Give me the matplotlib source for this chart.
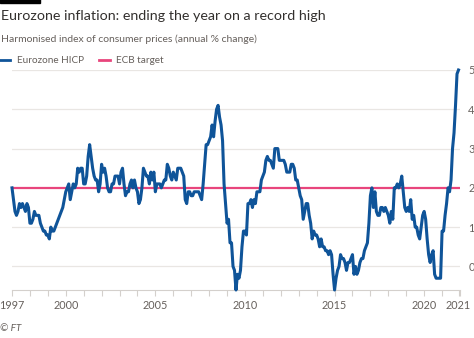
import numpy as np
import matplotlib.pyplot as plt
from matplotlib.patches import Rectangle

# Eurozone HICP, annual % change, monthly Jan 1997 - Dec 2021
hicp_1997_2004 = [
    2.0, 1.7, 1.4, 1.3, 1.4, 1.6, 1.5, 1.6, 1.5, 1.4, 1.6, 1.5,
    1.1, 1.1, 1.2, 1.4, 1.3, 1.3, 1.3, 1.1, 1.0, 0.9, 0.9, 0.8,
    0.8, 0.7, 1.0, 0.9, 0.9, 1.0, 1.1, 1.2, 1.3, 1.4, 1.5, 1.7,
    1.9, 2.0, 2.1, 1.7, 1.9, 2.1, 2.0, 2.1, 2.5, 2.4, 2.5, 2.5,
    2.1, 2.1, 2.3, 2.8, 3.1, 2.8, 2.5, 2.3, 2.2, 2.2, 1.9, 2.1,
    2.6, 2.4, 2.5, 2.3, 2.0, 1.9, 1.9, 2.1, 2.1, 2.3, 2.3, 2.3,
    2.1, 2.4, 2.5, 2.1, 1.8, 1.9, 1.9, 2.1, 2.2, 2.0, 2.2, 2.0,
    1.9, 1.6, 1.7, 2.0, 2.5, 2.4, 2.3, 2.3, 2.1, 2.4, 2.2, 2.4,
]
hicp_2005_2012 = [
    1.9, 2.1, 2.1, 2.1, 2.0, 2.1, 2.2, 2.2, 2.6, 2.5, 2.3, 2.2,
    2.4, 2.3, 2.2, 2.5, 2.5, 2.5, 2.4, 2.3, 1.7, 1.6, 1.9, 1.9,
    1.8, 1.8, 1.9, 1.9, 1.9, 1.9, 1.8, 1.7, 2.1, 2.6, 3.1, 3.1,
    3.2, 3.3, 3.6, 3.3, 3.7, 4.0, 4.1, 3.8, 3.6, 3.2, 2.1, 1.6,
    1.1, 1.2, 0.6, 0.6, 0.0, -0.1, -0.6, -0.2, -0.3, -0.1, 0.5, 0.9,
    0.9, 0.8, 1.6, 1.6, 1.7, 1.5, 1.7, 1.6, 1.9, 1.9, 1.9, 2.2,
    2.3, 2.4, 2.7, 2.8, 2.7, 2.7, 2.6, 2.5, 3.0, 3.0, 3.0, 2.7,
    2.7, 2.7, 2.7, 2.6, 2.4, 2.4, 2.4, 2.6, 2.6, 2.5, 2.2, 2.2,
]
hicp_2013_2021 = [
    2.0, 1.8, 1.7, 1.2, 1.4, 1.6, 1.6, 1.3, 1.1, 0.7, 0.9, 0.8,
    0.8, 0.7, 0.5, 0.7, 0.5, 0.5, 0.4, 0.4, 0.3, 0.4, 0.3, -0.2,
    -0.6, -0.3, -0.1, 0.0, 0.3, 0.2, 0.2, 0.1, -0.1, 0.1, 0.1, 0.2,
    0.3, -0.2, 0.0, -0.2, -0.1, 0.1, 0.2, 0.2, 0.4, 0.5, 0.6, 1.1,
    1.8, 2.0, 1.5, 1.9, 1.4, 1.3, 1.3, 1.5, 1.5, 1.4, 1.5, 1.4,
    1.3, 1.1, 1.4, 1.2, 2.0, 2.0, 2.1, 2.0, 2.1, 2.3, 1.9, 1.5,
    1.4, 1.5, 1.4, 1.7, 1.2, 1.3, 1.0, 1.0, 0.8, 0.7, 1.0, 1.3,
    1.4, 1.2, 0.7, 0.3, 0.1, 0.3, 0.4, -0.2, -0.3, -0.3, -0.3, -0.3,
    0.9, 0.9, 1.3, 1.6, 2.0, 1.9, 2.2, 3.0, 3.4, 4.1, 4.9, 5.0,
]
hicp = np.array(hicp_1997_2004 + hicp_2005_2012 + hicp_2013_2021)
ecb_target = 2.0
start_year = 1997
year_ticks = [1997, 2000, 2005, 2010, 2015, 2020]
last_label = "2021"

months = start_year + np.arange(len(hicp)) / 12

blue = "#0f5499"
pink = "#e8457c"
grey_text = "#66605c"
grid_col = "#e9e6e3"

plt.rcParams['font.family'] = ['Lato', 'DejaVu Sans']

fig = plt.figure(figsize=(4.74, 3.38), dpi=100)
fig.patch.set_facecolor("white")

# brand bar, title block and legend
fig.add_artist(Rectangle((0, 0.99), 40 / 474, 0.02, transform=fig.transFigure,
                         color="black", clip_on=False))
fig.text(0.002, 0.952, "Eurozone inflation: ending the year on a record high",
         fontsize=10.3, color="#33302e", va="center", ha="left")
fig.text(0.002, 0.883, "Harmonised index of consumer prices (annual % change)",
         fontsize=7.5, color=grey_text, va="center", ha="left")
fig.add_artist(plt.Line2D([0.0, 0.022], [0.822, 0.822], color=blue, lw=2,
                          transform=fig.transFigure))
fig.text(0.036, 0.822, "Eurozone HICP", fontsize=7.2, color=grey_text,
         va="center", ha="left")
fig.add_artist(plt.Line2D([0.209, 0.232], [0.822, 0.822], color=pink, lw=2,
                          transform=fig.transFigure))
fig.text(0.245, 0.822, "ECB target", fontsize=7.2, color=grey_text,
         va="center", ha="left")
fig.text(0.0, 0.015, "© FT", fontsize=7.2, color=grey_text, style="italic",
         va="bottom", ha="left")

ax = fig.add_axes([12 / 474, 48 / 338, 448 / 474, 220 / 338])
ax.set_xlim(start_year, 2022)
ax.set_ylim(-0.6, 5.0)

ax.axhline(ecb_target, color=pink, lw=1.6, zorder=2)
ax.plot(months, hicp, color=blue, lw=2.2, zorder=3, clip_on=False,
        solid_joinstyle="round")

# horizontal gridlines and right-hand labels
for v in range(0, 6):
    if v != 2:
        ax.axhline(v, color=grid_col, lw=0.9, zorder=1)
ax.yaxis.tick_right()
ax.set_yticks(range(0, 6))
ax.tick_params(axis="y", length=0, pad=6, labelsize=7.8, labelcolor=grey_text)

# yearly ticks along the bottom, labels on selected years
ax.set_xticks(np.arange(start_year, 2023), minor=True)
ax.set_xticks([float(y) for y in year_ticks] + [months[-1]])
ax.set_xticklabels([str(y) for y in year_ticks] + [last_label])
ax.tick_params(axis="x", which="both", length=4, color="#d4d0cc", width=0.8,
               labelsize=7.8, labelcolor=grey_text, pad=3)

for side in ["top", "left", "right"]:
    ax.spines[side].set_visible(False)
ax.spines["bottom"].set_color("#d4d0cc")
ax.spines["bottom"].set_linewidth(0.8)

fig.savefig("out.png", dpi=100, facecolor="white")
